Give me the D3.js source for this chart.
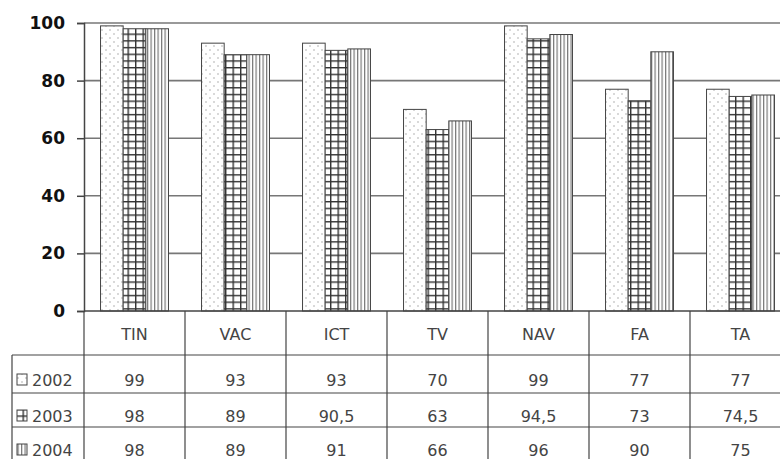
<!DOCTYPE html>
<html>
<head>
<meta charset="utf-8">
<script src="https://cdn.jsdelivr.net/npm/d3@7"></script>
<style>
  body { margin: 0; background: #fff; }
  svg { display: block; }
</style>
</head>
<body>
<svg id="chart" width="780" height="459"></svg>
<script>
var categories = ["TIN", "VAC", "ICT", "TV", "NAV", "FA", "TA"];
var years = ["2002", "2003", "2004"];
var v2002 = [99, 93, 93, 70, 99, 77, 77];
var v2003 = [98, 89, 90.5, 63, 94.5, 73, 74.5];
var v2004 = [98, 89, 91, 66, 96, 90, 75];
var yTicks = [0, 20, 40, 60, 80, 100];

var series = [v2002, v2003, v2004];

var svg = d3.select("#chart"),
    plotLeft = 84, plotTop = 23, plotBottom = 311,
    catW = 101;

var x = d3.scaleBand().domain(categories)
    .range([plotLeft, plotLeft + catW * categories.length]).paddingInner(0).paddingOuter(0);
var xs = d3.scaleBand().domain(years).range([0, catW]).paddingOuter(0.73).paddingInner(0);
var y = d3.scaleLinear().domain([0, 100]).range([plotBottom, plotTop]);

// patterns
var defs = svg.append("defs");
var p1 = defs.append("pattern").attr("id", "p2002").attr("patternUnits", "userSpaceOnUse")
    .attr("width", 8).attr("height", 8);
p1.append("rect").attr("width", 8).attr("height", 8).attr("fill", "#fff");
p1.append("circle").attr("cx", 2).attr("cy", 2).attr("r", 0.8).attr("fill", "#aaa");
p1.append("circle").attr("cx", 6).attr("cy", 6).attr("r", 0.8).attr("fill", "#aaa");

var p2 = defs.append("pattern").attr("id", "p2003").attr("patternUnits", "userSpaceOnUse")
    .attr("width", 7.5).attr("height", 6.7);
p2.append("rect").attr("width", 7.5).attr("height", 6.7).attr("fill", "#fff");
p2.append("rect").attr("x", 0).attr("y", 0).attr("width", 1.4).attr("height", 6.7).attr("fill", "#333");
p2.append("rect").attr("x", 0).attr("y", 0).attr("width", 7.5).attr("height", 1.4).attr("fill", "#333");

var p3 = defs.append("pattern").attr("id", "p2004").attr("patternUnits", "userSpaceOnUse")
    .attr("width", 3.5).attr("height", 4);
p3.append("rect").attr("width", 3.5).attr("height", 4).attr("fill", "#fff");
p3.append("rect").attr("x", 0).attr("width", 1.2).attr("height", 4).attr("fill", "#777");

// gridlines
svg.append("g").selectAll("line")
    .data(yTicks.filter(function(d) { return d > 0; }))
  .enter().append("line")
    .attr("x1", plotLeft).attr("x2", 780)
    .attr("y1", function(d) { return y(d); }).attr("y2", function(d) { return y(d); })
    .attr("stroke", "#777").attr("stroke-width", 1.6);

// bars
categories.forEach(function(c, i) {
  years.forEach(function(yr, j) {
    svg.append("rect")
      .attr("x", x(c) + xs(yr))
      .attr("y", y(series[j][i]))
      .attr("width", xs.bandwidth())
      .attr("height", y(0) - y(series[j][i]))
      .attr("fill", "url(#p" + yr + ")")
      .attr("stroke", "#444").attr("stroke-width", 1);
  });
});

// y axis
var yAxis = svg.append("g")
    .attr("transform", "translate(" + plotLeft + ",0)")
    .call(d3.axisLeft(y).tickValues(yTicks).tickSize(7).tickPadding(12));
yAxis.select(".domain").attr("stroke", "#444").attr("stroke-width", 1.5);
yAxis.selectAll(".tick line").attr("stroke", "#444").attr("stroke-width", 1.5);
yAxis.selectAll("text")
    .style("font-family", "Verdana, 'DejaVu Sans', sans-serif")
    .style("font-weight", "bold").style("font-size", "17px").attr("fill", "#111");

// data table
var rowY = [311, 355, 393, 427, 461];
var tbl = svg.append("g").attr("font-family", "'DejaVu Sans', sans-serif")
    .attr("font-size", "16px").attr("fill", "#444");

// horizontal lines
tbl.append("line").attr("x1", plotLeft).attr("x2", 780).attr("y1", plotBottom).attr("y2", plotBottom)
   .attr("stroke", "#444").attr("stroke-width", 1.5);
rowY.slice(1, 4).forEach(function(ry) {
  tbl.append("line").attr("x1", 12).attr("x2", 780).attr("y1", ry).attr("y2", ry)
     .attr("stroke", "#444").attr("stroke-width", 1.2);
});
// vertical lines
d3.range(categories.length + 1).forEach(function(k) {
  var xx = plotLeft + k * catW;
  tbl.append("line").attr("x1", xx).attr("x2", xx).attr("y1", plotBottom).attr("y2", 459)
     .attr("stroke", "#444").attr("stroke-width", 1.2);
});
tbl.append("line").attr("x1", 12).attr("x2", 12).attr("y1", rowY[1]).attr("y2", 459)
   .attr("stroke", "#444").attr("stroke-width", 1.2);

// header
tbl.selectAll(".hdr").data(categories).enter().append("text")
    .attr("class", "hdr")
    .attr("x", function(d) { return x(d) + catW / 2; })
    .attr("y", 340)
    .attr("text-anchor", "middle")
    .text(function(d) { return d; });

// rows
function fmt(v) { return String(v).replace(".", ","); }
years.forEach(function(yr, j) {
  var by = rowY[j + 1] + (j === 0 ? 31 : 29);
  tbl.append("rect").attr("x", 17).attr("y", by - 12).attr("width", 10).attr("height", 11)
     .attr("fill", "url(#p" + yr + ")").attr("stroke", "#444").attr("stroke-width", 1);
  tbl.append("text").attr("x", 32).attr("y", by).text(yr);
  categories.forEach(function(c, i) {
    tbl.append("text")
      .attr("x", x(c) + catW / 2).attr("y", by)
      .attr("text-anchor", "middle")
      .text(fmt(series[j][i]));
  });
});
</script>
</body>
</html>
